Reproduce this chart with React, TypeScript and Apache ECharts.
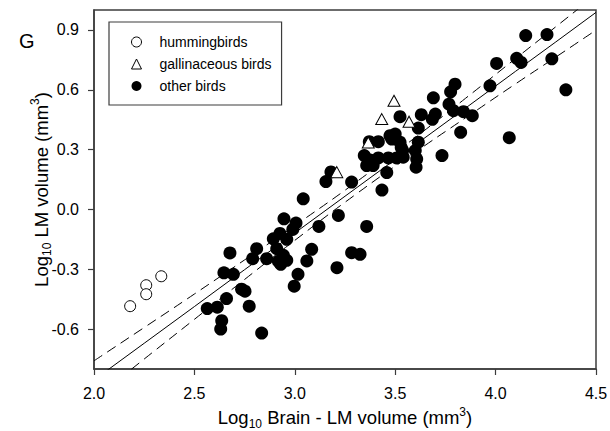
import React, { useEffect, useRef } from "react";
import * as echarts from "echarts";

const FONT = "'Liberation Sans', Arial, sans-serif";

const xTicks = [2.0, 2.5, 3.0, 3.5, 4.0, 4.5];
const yTicks = [-0.6, -0.3, 0.0, 0.3, 0.6, 0.9];

const hummingbirds: number[][] = [
  [2.18, -0.485], [2.26, -0.38], [2.26, -0.425], [2.335, -0.335],
];

const gallinaceous: number[][] = [
  [3.494, 0.545], [3.433, 0.453], [3.569, 0.44], [3.366, 0.336], [3.209, 0.187],
];

const otherBirds: number[][] = [
  [2.564, -0.497], [2.614, -0.49], [2.636, -0.558], [2.631, -0.6], [2.66, -0.447],
  [2.647, -0.318], [2.694, -0.325], [2.677, -0.218], [2.735, -0.4], [2.752, -0.41],
  [2.773, -0.485], [2.835, -0.62], [2.79, -0.247], [2.81, -0.197], [2.86, -0.247],
  [2.893, -0.147], [2.926, -0.12], [2.96, -0.15], [2.91, -0.197], [2.943, -0.23],
  [2.918, -0.26], [2.96, -0.255], [2.93, -0.275], [2.946, -0.047], [2.99, -0.1],
  [3.006, -0.068], [3.016, -0.325], [2.997, -0.385],
  [3.042, 0.053], [3.06, -0.258], [3.084, -0.2], [3.12, -0.085], [3.217, -0.03],
  [3.21, -0.292], [3.283, -0.217], [3.325, -0.225], [3.358, -0.085], [3.434, 0.097],
  [3.155, 0.14], [3.18, 0.188], [3.283, 0.137], [3.458, 0.185],
  [3.346, 0.27], [3.375, 0.248], [3.358, 0.22], [3.39, 0.22], [3.416, 0.258],
  [3.466, 0.258], [3.507, 0.258], [3.54, 0.262], [3.537, 0.295], [3.53, 0.31],
  [3.6, 0.295], [3.607, 0.253], [3.604, 0.212], [3.371, 0.34], [3.416, 0.34],
  [3.483, 0.353], [3.524, 0.337], [3.474, 0.37], [3.5, 0.378], [3.615, 0.337],
  [3.615, 0.408], [3.524, 0.465], [3.63, 0.475], [3.7, 0.478], [3.685, 0.452],
  [3.69, 0.56], [3.733, 0.27],
  [3.768, 0.528], [3.79, 0.495], [3.84, 0.49], [3.884, 0.47], [3.776, 0.59],
  [3.798, 0.628], [3.826, 0.387], [3.972, 0.62], [4.005, 0.732], [4.105, 0.758],
  [4.127, 0.737], [4.068, 0.36], [4.15, 0.872], [4.256, 0.877], [4.28, 0.755],
  [4.35, 0.6],
];

const fitX = [2.0, 2.25, 2.5, 2.75, 3.0, 3.3, 3.6, 3.85, 4.1, 4.3, 4.5];
const fitY = [-0.855, -0.671, -0.487, -0.302, -0.118, 0.103, 0.324, 0.508, 0.693, 0.84, 0.988];
const upperY = [-0.759, -0.592, -0.424, -0.253, -0.081, 0.133, 0.361, 0.557, 0.757, 0.916, 1.077];
const lowerY = [-0.951, -0.75, -0.551, -0.351, -0.155, 0.073, 0.287, 0.459, 0.63, 0.764, 0.899];

const AXIS_COLOR = "#3c3c3c";

export default function App() {
  const ref = useRef<HTMLDivElement>(null);

  useEffect(() => {
    if (!ref.current) return;
    const chart = echarts.init(ref.current, undefined, { renderer: "svg" });

    const pair = (ys: number[]) => fitX.map((x, i) => [x, ys[i]]);

    const richName = {
      t: { fontSize: 18.5, fontFamily: FONT, color: "#000", lineHeight: 24 },
      s: { fontSize: 12, fontFamily: FONT, color: "#000", lineHeight: 14, verticalAlign: "bottom" },
      p: { fontSize: 12, fontFamily: FONT, color: "#000", lineHeight: 14, verticalAlign: "top" },
    };

    const option: any = {
      animation: false,
      backgroundColor: "#fff",
      grid: {
        left: 94,
        right: 14,
        top: 10,
        bottom: 62,
        containLabel: false,
        outerBoundsMode: "none",
        show: true,
        borderColor: AXIS_COLOR,
        borderWidth: 1.5,
        backgroundColor: "transparent",
      },
      legend: {
        show: true,
        orient: "vertical",
        left: 109,
        top: 22,
        data: ["hummingbirds", "gallinaceous birds", "other birds"],
        itemWidth: 10,
        itemHeight: 10,
        itemGap: 8,
        padding: [13, 10, 12, 22],
        borderColor: AXIS_COLOR,
        borderWidth: 1.2,
        backgroundColor: "#fff",
        borderRadius: 0,
        itemStyle: { borderWidth: 1 },
        textStyle: {
          fontFamily: FONT,
          fontSize: 14,
          color: "#000",
          padding: [0, 0, 0, 13],
        },
        selectedMode: false,
      },
      xAxis: {
        type: "value",
        min: 2.0,
        max: 4.5,
        interval: 0.5,
        name: "{t|Log}{s|10}{t| Brain - LM volume (mm}{p|3}{t|)}",
        nameLocation: "middle",
        nameGap: 31,
        nameTextStyle: { fontFamily: FONT, color: "#000", rich: richName },
        axisLine: { show: true, onZero: false, lineStyle: { color: AXIS_COLOR, width: 1.5 } },
        axisTick: { show: true, inside: false, length: 6, lineStyle: { color: AXIS_COLOR, width: 1.2 } },
        axisLabel: {
          fontFamily: FONT,
          fontSize: 16,
          color: "#000",
          margin: 16,
          formatter: (v: number) => v.toFixed(1),
          customValues: xTicks,
        },
        splitLine: { show: false },
      },
      yAxis: {
        type: "value",
        min: -0.8,
        max: 1.0,
        name: "{t|Log}{s|10}{t| LM volume (mm}{p|3}{t|)}",
        nameLocation: "middle",
        nameGap: 41,
        nameMoveOverlap: false,
        nameRotate: 90,
        nameTextStyle: { fontFamily: FONT, color: "#000", rich: richName },
        axisLine: { show: true, onZero: false, lineStyle: { color: AXIS_COLOR, width: 1.5 } },
        axisTick: { show: true, inside: false, length: 6, customValues: yTicks, lineStyle: { color: AXIS_COLOR, width: 1.2 } },
        axisLabel: {
          fontFamily: FONT,
          fontSize: 16,
          color: "#000",
          margin: 15,
          customValues: yTicks,
          formatter: (v: number) => (Math.abs(v) < 1e-9 ? "0.0" : v.toFixed(1)),
        },
        splitLine: { show: false },
      },
      graphic: [
        {
          type: "text",
          left: 19,
          top: 31,
          style: { text: "G", fontFamily: FONT, fontSize: 20, fill: "#000" },
        },
      ],
      series: [
        {
          name: "upper",
          type: "line",
          data: pair(upperY),
          showSymbol: false,
          smooth: true,
          lineStyle: { color: "#000", width: 1, type: [10, 6] },
          z: 1,
          silent: true,
        },
        {
          name: "fit",
          type: "line",
          data: pair(fitY),
          showSymbol: false,
          lineStyle: { color: "#000", width: 1 },
          z: 1,
          silent: true,
        },
        {
          name: "lower",
          type: "line",
          data: pair(lowerY),
          showSymbol: false,
          smooth: true,
          lineStyle: { color: "#000", width: 1, type: [10, 6] },
          z: 1,
          silent: true,
        },
        {
          name: "hummingbirds",
          type: "scatter",
          data: hummingbirds,
          symbol: "circle",
          symbolSize: 11,
          itemStyle: { color: "#fff", borderColor: "#000", borderWidth: 1, opacity: 1 },
          z: 3,
        },
        {
          name: "gallinaceous birds",
          type: "scatter",
          data: gallinaceous,
          symbol: "triangle",
          symbolSize: [12, 11],
          itemStyle: { color: "#fff", borderColor: "#000", borderWidth: 1, opacity: 1 },
          z: 3,
        },
        {
          name: "other birds",
          type: "scatter",
          data: otherBirds,
          symbol: "circle",
          symbolSize: 13,
          itemStyle: { color: "#000", opacity: 1 },
          z: 2,
        },
      ],
    };

    chart.setOption(option);
    return () => chart.dispose();
  }, []);

  return (
    <div
      ref={ref}
      style={{ position: "fixed", left: 0, top: 0, width: 610, height: 431, background: "#fff" }}
    />
  );
}
